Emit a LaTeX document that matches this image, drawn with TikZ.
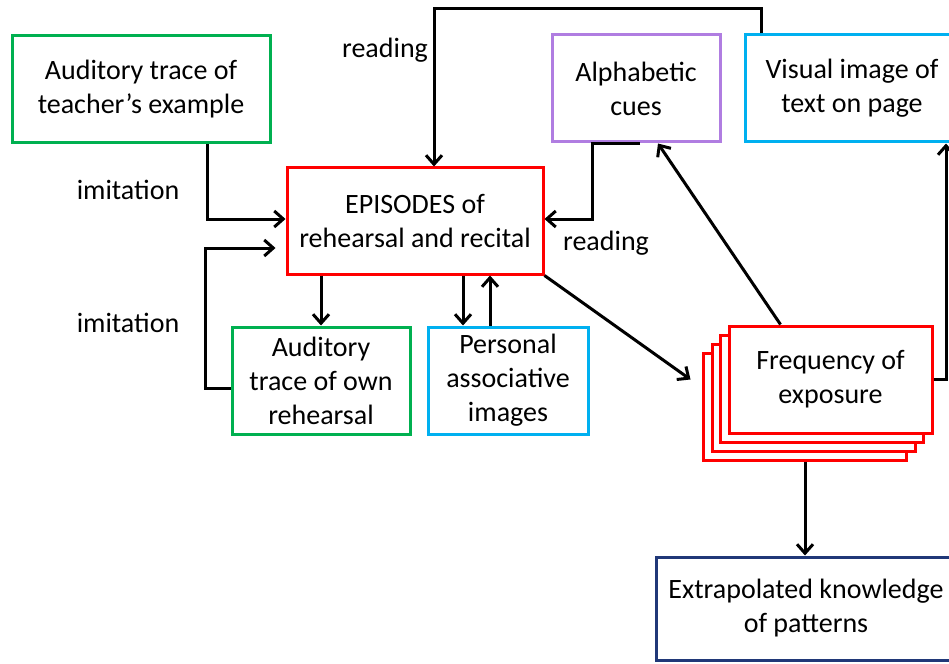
\documentclass[tikz,border=0pt]{standalone}
\usepackage{fontspec}
\setmainfont{Carlito}
\usetikzlibrary{arrows.meta}
\definecolor{boxGreen}{RGB}{0,176,80}
\definecolor{boxRed}{RGB}{255,0,0}
\definecolor{boxPurple}{RGB}{176,125,225}
\definecolor{boxCyan}{RGB}{0,176,240}
\definecolor{boxNavy}{RGB}{32,56,120}

\begin{document}
\begin{tikzpicture}[x=1pt,y=-1pt,
  box/.style={draw=#1, line width=3pt, fill=white, align=center, inner sep=2pt,
    font=\fontsize{28}{34}\selectfont, minimum height=107pt},
  conn/.style={line width=3pt, -{Straight Barb[length=9pt,width=16pt]}},
  lbl/.style={font=\fontsize{28}{34}\selectfont}]

  \useasboundingbox (0,0) rectangle (949,663);
  \clip (0,0) rectangle (949,663);

  % boxes
  \node[box=boxGreen, minimum width=258pt] (teacher) at (141,89.5) {Auditory trace of\\teacher’s example};
  \node[box=boxRed, minimum width=256pt, minimum height=106pt] (episodes) at (415,221) {EPISODES of\\rehearsal and recital};
  \node[box=boxPurple, minimum width=168pt] (alpha) at (636,88.5) {Alphabetic\\cues};
  \node[box=boxCyan, minimum width=214pt] (visual) at (852,88.5) {Visual image of\\text on page};
  \node[box=boxGreen, minimum width=178pt] (own) at (321,380.5) {Auditory\\trace of own\\rehearsal};
  \node[box=boxCyan, minimum width=160pt] (personal) at (508,380.5) {Personal\\associative\\images};

  % stack of exposures
  \foreach \k in {3,2,1}
    \node[box=boxRed, minimum width=203pt] (freq\k) at (830.5-8.5*\k, 379.5+9*\k) {};
  \node[box=boxRed, minimum width=203pt] (freq) at (830.5,379.5) {Frequency of\\exposure};

  \node[box=boxNavy, minimum width=300pt, minimum height=103pt] (extra) at (806,608.5) {Extrapolated knowledge\\of patterns};

  % labels
  \node[lbl] (lblread1) at (385,50) {reading};
  \node[lbl] (lblimit1) at (128,190) {imitation};
  \node[lbl] (lblimit2) at (128,323) {imitation};
  \node[lbl] (lblread2) at (606,243) {reading};

  % connectors
  \draw[conn] ([xshift=18pt]visual.north west) -- ++(0,-25) -| ([xshift=19pt]episodes.north);
  \draw[conn] ([xshift=66pt]teacher.south) |- ([yshift=2pt]episodes.west);
  \draw[conn] ([yshift=-8pt]own.west) -- ++(-25,0) |- ([xshift=-10pt,yshift=-27pt]episodes.west);
  \draw[conn] ([xshift=4pt]alpha.south) -- ([xshift=-44pt]alpha.south) |- ([yshift=2pt]episodes.east);
  \draw[conn] (episodes.south -| own.north) -- (own.north);
  \coordinate (pd) at ([xshift=-45pt]personal.north);
  \coordinate (pu) at ([xshift=-18pt]personal.north);
  \draw[conn] (pd |- episodes.south) -- (pd);
  \draw[conn] (pu) -- (pu |- episodes.south);
  \draw[conn] (episodes.south east) -- ([xshift=-37pt]freq.west);
  \draw[conn] ([xshift=-50pt]freq.north) -- ([xshift=22pt]alpha.south);
  \draw[conn] (freq.east) -| ([xshift=94pt]visual.south);
  \draw[conn] (freq3.south) -- (freq3.south |- extra.north);

\end{tikzpicture}
\end{document}
